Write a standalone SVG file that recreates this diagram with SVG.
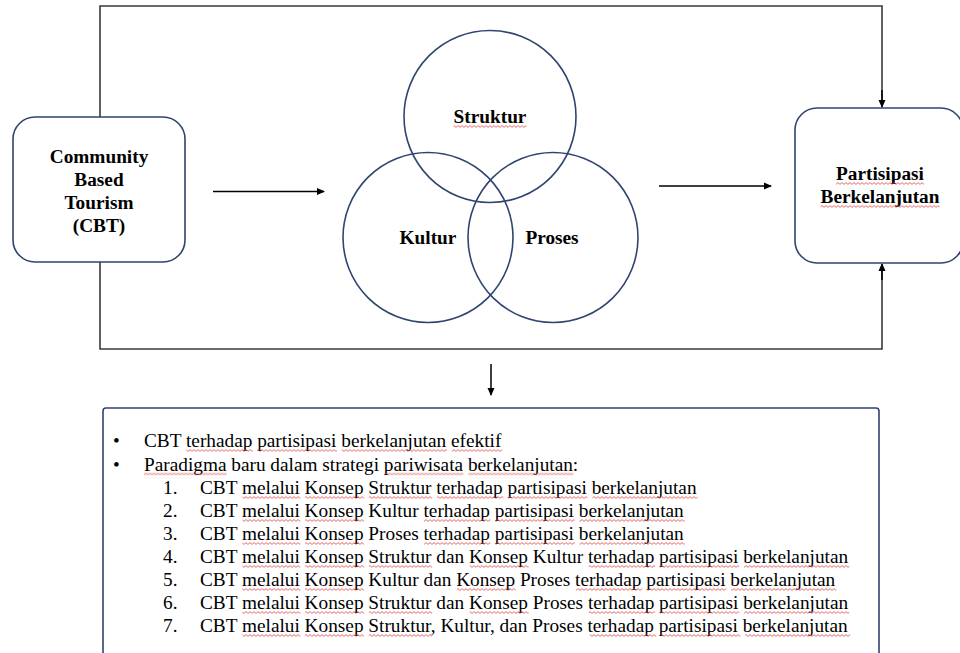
<svg xmlns="http://www.w3.org/2000/svg" width="960" height="653" viewBox="0 0 960 653">
<style>
.box{fill:#fff;stroke:#2f4470;stroke-width:1.6}
.circ{fill:none;stroke:#2f4470;stroke-width:1.6}
.frame{fill:none;stroke:#3a3a3a;stroke-width:1.6}
.arr{fill:none;stroke:#000;stroke-width:1.5}
.b{font-family:"Liberation Serif","Times New Roman",serif;font-weight:bold;font-size:19.3px;fill:#000;text-anchor:middle}
.t{font-family:"Liberation Serif","Times New Roman",serif;font-size:19.3px;fill:#000}
.sq rect{fill:url(#wave);height:3px}
</style>
<defs>
<marker id="ah" markerWidth="8" markerHeight="8" refX="7" refY="4" orient="auto" markerUnits="userSpaceOnUse">
<path d="M0,0.5 L8,4 L0,7.5 Z" fill="#000"/>
</marker>
<pattern id="wave" width="4" height="3" patternUnits="userSpaceOnUse">
<path d="M0,2.4 L2,0.6 L4,2.4" fill="none" stroke="#e3443e" stroke-width="0.8"/>
</pattern>
</defs>
<g id="connectors">
<polyline class="frame" points="100,118 100,6 882,6 882,100"/>
<polyline class="frame" points="100,262 100,349 882,349 882,271"/>
<line x1="882" y1="90" x2="882" y2="107" class="arr" marker-end="url(#ah)"/>
<line x1="882" y1="280" x2="882" y2="264" class="arr" marker-end="url(#ah)"/>
<line x1="213" y1="191.5" x2="324" y2="191.5" class="arr" marker-end="url(#ah)"/>
<line x1="659" y1="186" x2="771" y2="186" class="arr" marker-end="url(#ah)"/>
<line x1="491" y1="364" x2="491" y2="395" class="arr" marker-end="url(#ah)"/>
</g>
<g id="cbt">
<rect class="box" x="13" y="117" width="172" height="145" rx="22"/>
<text class="b" x="99" y="163">Community</text>
<text class="b" x="99" y="186">Based</text>
<text class="b" x="99" y="209">Tourism</text>
<text class="b" x="99" y="232">(CBT)</text>
</g>
<g id="struktur">
<circle class="circ" cx="490" cy="116.5" r="86"/>
<text class="b" x="490" y="123">Struktur</text>
</g>
<g id="kultur">
<circle class="circ" cx="428" cy="237.5" r="85"/>
<text class="b" x="428" y="244">Kultur</text>
</g>
<g id="proses">
<circle class="circ" cx="553" cy="237.5" r="85"/>
<text class="b" x="552" y="244">Proses</text>
</g>
<g id="partisipasi">
<rect class="box" x="795" y="108" width="168" height="155" rx="22"/>
<text class="b" x="880" y="180">Partisipasi</text>
<text class="b" x="880" y="203">Berkelanjutan</text>
</g>
<g id="ringkasan">
<rect class="box" x="103" y="408" width="776" height="262" rx="3"/>
<text class="t" x="113" y="447">•</text>
<text class="t" x="144" y="447">CBT terhadap partisipasi berkelanjutan efektif</text>
<text class="t" x="113" y="470.5">•</text>
<text class="t" x="144" y="470.5">Paradigma baru dalam strategi pariwisata berkelanjutan:</text>
<text class="t" x="163" y="494">1.</text>
<text class="t" x="200" y="494">CBT melalui Konsep Struktur terhadap partisipasi berkelanjutan</text>
<text class="t" x="163" y="517">2.</text>
<text class="t" x="200" y="517">CBT melalui Konsep Kultur terhadap partisipasi berkelanjutan</text>
<text class="t" x="163" y="540">3.</text>
<text class="t" x="200" y="540">CBT melalui Konsep Proses terhadap partisipasi berkelanjutan</text>
<text class="t" x="163" y="563">4.</text>
<text class="t" x="200" y="563">CBT melalui Konsep Struktur dan Konsep Kultur terhadap partisipasi berkelanjutan</text>
<text class="t" x="163" y="586">5.</text>
<text class="t" x="200" y="586">CBT melalui Konsep Kultur dan Konsep Proses terhadap partisipasi berkelanjutan</text>
<text class="t" x="163" y="609">6.</text>
<text class="t" x="200" y="609">CBT melalui Konsep Struktur dan Konsep Proses terhadap partisipasi berkelanjutan</text>
<text class="t" x="163" y="632">7.</text>
<text class="t" x="200" y="632">CBT melalui Konsep Struktur, Kultur, dan Proses terhadap partisipasi berkelanjutan</text>
</g>
<g id="spellcheck" class="sq">
<g transform="translate(0,125)"><rect x="453.5" width="73"/></g>
<g transform="translate(0,182)"><rect x="836" width="88"/></g>
<g transform="translate(0,205)"><rect x="820.5" width="119"/></g>
<g transform="translate(0,449)"><rect x="186.4" width="66.4"/><rect x="257.6" width="79.3"/><rect x="341.8" width="105.1"/><rect x="451.7" width="50.4"/></g>
<g transform="translate(0,472.5)"><rect x="144" width="82.6"/><rect x="384.1" width="79.3"/><rect x="468.3" width="105.1"/></g>
<g transform="translate(0,496)"><rect x="242.4" width="57.9"/><rect x="305.1" width="59"/><rect x="368.9" width="63.3"/><rect x="437" width="66.4"/><rect x="508.2" width="79.3"/><rect x="592.4" width="105.1"/></g>
<g transform="translate(0,519)"><rect x="242.4" width="57.9"/><rect x="305.1" width="59"/><rect x="424.1" width="66.4"/><rect x="495.4" width="79.3"/><rect x="579.5" width="105.1"/></g>
<g transform="translate(0,542)"><rect x="242.4" width="57.9"/><rect x="305.1" width="59"/><rect x="424.1" width="66.4"/><rect x="495.4" width="79.3"/><rect x="579.5" width="105.1"/></g>
<g transform="translate(0,565)"><rect x="242.4" width="57.9"/><rect x="305.1" width="59"/><rect x="368.9" width="63.3"/><rect x="469.7" width="59"/><rect x="588.7" width="66.4"/><rect x="659.9" width="79.3"/><rect x="744.1" width="105.1"/></g>
<g transform="translate(0,588)"><rect x="242.4" width="57.9"/><rect x="305.1" width="59"/><rect x="456.8" width="59"/><rect x="575.8" width="66.4"/><rect x="647.1" width="79.3"/><rect x="731.2" width="105.1"/></g>
<g transform="translate(0,611)"><rect x="242.4" width="57.9"/><rect x="305.1" width="59"/><rect x="368.9" width="63.3"/><rect x="469.7" width="59"/><rect x="588.7" width="66.4"/><rect x="659.9" width="79.3"/><rect x="744.1" width="105.1"/></g>
<g transform="translate(0,634)"><rect x="242.4" width="57.9"/><rect x="305.1" width="59"/><rect x="368.9" width="63.3"/><rect x="589.7" width="66.4"/><rect x="661" width="79.3"/><rect x="745.2" width="105.1"/></g>
</g>
</svg>
